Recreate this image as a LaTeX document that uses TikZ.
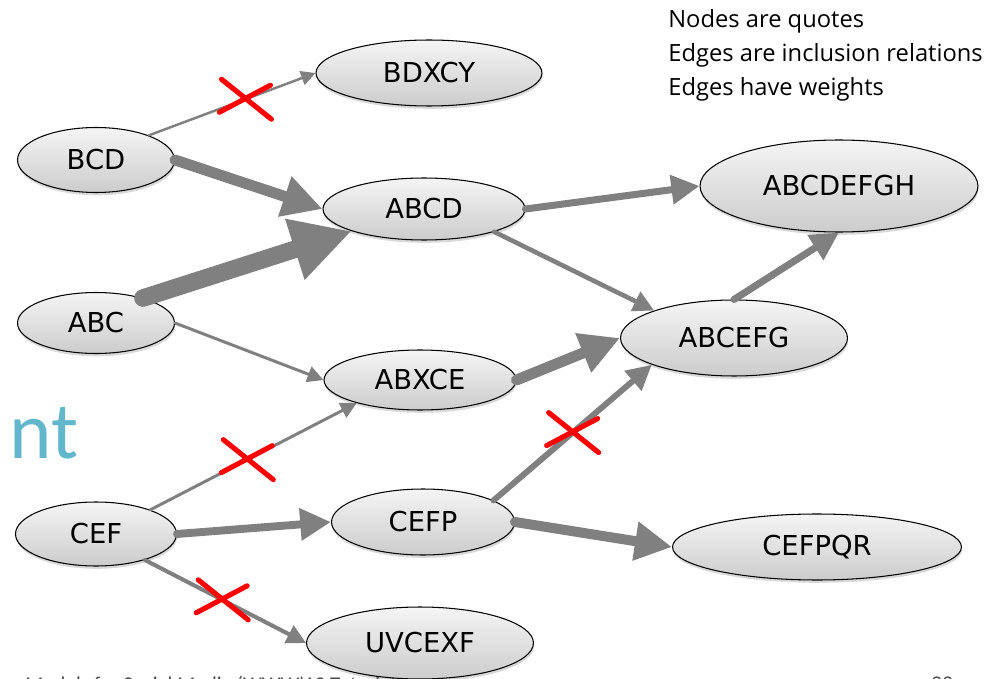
\documentclass[tikz,border=0pt]{standalone}
\usepackage{fontspec}
\usetikzlibrary{shapes.geometric,arrows.meta,shadows}
\newfontfamily\quotefont{DejaVu Sans}
\newfontfamily\notefont{Open Sans}
\newfontfamily\slidefont{Carlito}
\definecolor{titleblue}{RGB}{98,183,205}

\begin{document}
\begin{tikzpicture}[x=0.02cm, y=-0.02cm,
	quote/.style={ellipse, draw=black, line width=0.6pt, inner sep=0pt, top color=gray!8, bottom color=gray!40, drop shadow={shadow xshift=0.4pt, shadow yshift=-1.6pt, opacity=0.3}, font={\quotefont\fontsize{15.6}{19}\selectfont}},
	incl/.style={draw=gray, line width=#1, line cap=round, -{Triangle[length=4pt 3, width=4pt 3]}},
	note/.style={inner sep=0pt, font={\notefont\fontsize{13.5}{19.3}\selectfont}},
	cut/.pic={\draw[-, red, line width=2.9pt, line cap=round] (-24,-20) -- (26,20) (-26,13) -- (25,-14);}]
	\useasboundingbox (0,0) rectangle (998,679);
	\clip (0,0) rectangle (998,679);
	% slide remains
	\node[inner sep=0pt, anchor=base west, text=titleblue, font={\slidefont\fontsize{46}{52}\selectfont}] (title) at (9,458) {nt};
	\node[inner sep=0pt, anchor=north west, text=black!70, font={\slidefont\fontsize{12}{14}\selectfont}] (footer) at (25,676) {Models for Social Media (WWW'13 Tutorial)};
	\node[inner sep=0pt, anchor=north west, text=black!70, font={\slidefont\fontsize{12}{14}\selectfont}] (page) at (931,676) {23};
	\node[note, anchor=north west, align=left] (legend) at (668,9) {Nodes are quotes\\Edges are inclusion relations\\Edges have weights};
	% quotes
	\node[quote, minimum width=4.52cm, minimum height=1.32cm] (BDXCY) at (429,73) {BDXCY};
	\node[quote, minimum width=3.14cm, minimum height=1.30cm] (BCD) at (96,160) {BCD};
	\node[quote, minimum width=4.04cm, minimum height=1.24cm] (ABCD) at (424,209) {ABCD};
	\node[quote, minimum width=5.56cm, minimum height=1.84cm] (ABCDEFGH) at (839,186) {ABCDEFGH};
	\node[quote, minimum width=3.14cm, minimum height=1.22cm] (ABC) at (96,323) {ABC};
	\node[quote, minimum width=4.54cm, minimum height=1.52cm] (ABCEFG) at (734,338) {ABCEFG};
	\node[quote, minimum width=3.84cm, minimum height=1.20cm] (ABXCE) at (420,380) {ABXCE};
	\node[quote, minimum width=3.22cm, minimum height=1.28cm] (CEF) at (96,534) {CEF};
	\node[quote, minimum width=3.66cm, minimum height=1.32cm] (CEFP) at (423,522) {CEFP};
	\node[quote, minimum width=5.78cm, minimum height=1.32cm] (CEFPQR) at (817,547) {CEFPQR};
	\node[quote, minimum width=4.54cm, minimum height=1.44cm] (UVCEXF) at (420,643) {UVCEXF};
	% inclusions
	\draw[incl=1.4pt] (BCD.25) -- coordinate[pos=0.58] (cut1) (BDXCY.west);
	\draw[incl=6.2pt] (BCD.east) -- (ABCD.west);
	\draw[incl=10pt] (ABC.28) -- (ABCD.197);
	\draw[incl=1.7pt] (ABC.east) -- (ABXCE.west);
	\draw[incl=4pt] (ABCD.east) -- (ABCDEFGH.west);
	\draw[incl=2.6pt] (ABCD.-18) -- (ABCEFG.161);
	\draw[incl=6.2pt] (ABXCE.east) -- (ABCEFG.west);
	\draw[incl=4pt] (ABCEFG.north) -- (ABCDEFGH.south);
	\draw[incl=1.7pt] (CEF.24) -- coordinate[pos=0.47] (cut2) (ABXCE.200);
	\draw[incl=4.5pt] (CEF.east) -- (CEFP.west);
	\draw[incl=2.3pt] (CEF.-28) -- coordinate[pos=0.48] (cut3) (UVCEXF.west);
	\draw[incl=3.4pt] (CEFP.17) -- coordinate[pos=0.5] (cut4) (ABCEFG.198);
	\draw[incl=5.7pt] (CEFP.east) -- (CEFPQR.west);
	\foreach \c in {cut1,cut2,cut3,cut4}
		\pic at (\c) {cut};
\end{tikzpicture}
\end{document}
